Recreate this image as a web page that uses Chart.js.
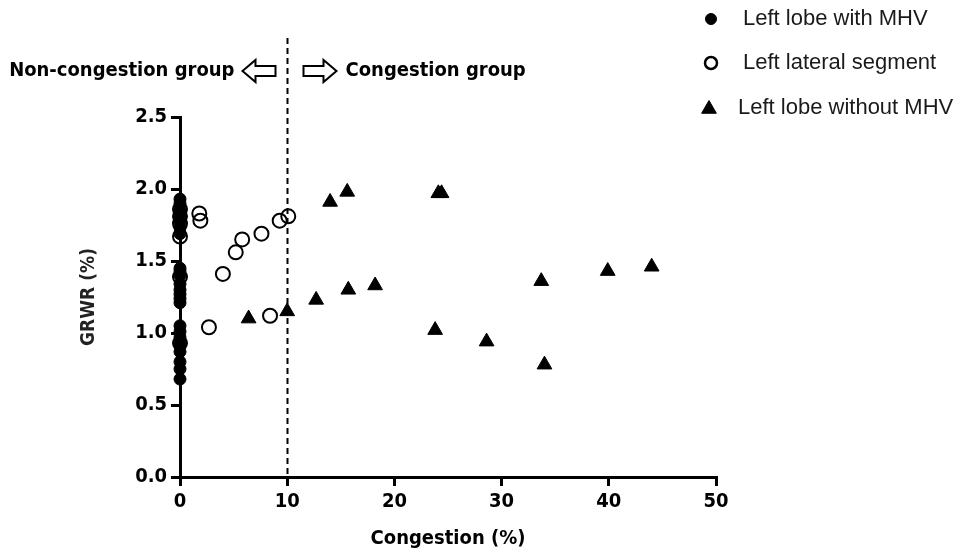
<!DOCTYPE html>
<html>
<head>
<meta charset="utf-8">
<script src="https://cdn.jsdelivr.net/npm/chart.js@4/dist/chart.umd.min.js"></script>
<style>
  html, body { margin: 0; padding: 0; background: #fff; }
  #wrap { width: 973px; height: 555px; }
</style>
</head>
<body>
<div id="wrap"><canvas id="chart"></canvas></div>
<script>
// values
const seriesNames = ['Left lobe with MHV', 'Left lateral segment', 'Left lobe without MHV'];

const withMhvX = [0, 0, 0, 0, 0, 0, 0, 0, 0, 0, 0, 0, 0, 0, 0, 0, 0, 0, 0, 0, 0, 0, 0, 0, 0];
const withMhvY = [1.93, 1.90, 1.87, 1.84, 1.81, 1.77, 1.73, 1.69, 1.45, 1.43, 1.40, 1.34, 1.30, 1.27, 1.24, 1.21, 1.05, 1.01, 0.97, 0.94, 0.91, 0.87, 0.80, 0.75, 0.68];

const lateralX = [0, 0, 0, 0, 0, 0, 1.8, 1.9, 2.7, 4.0, 5.2, 5.8, 7.6, 9.3, 10.1, 8.4];
const lateralY = [1.86, 1.81, 1.76, 1.67, 1.39, 0.93, 1.83, 1.78, 1.04, 1.41, 1.56, 1.65, 1.69, 1.78, 1.81, 1.12];

const withoutMhvX = [6.4, 10.0, 12.7, 14.0, 15.6, 15.7, 18.2, 23.8, 24.1, 24.4, 28.6, 33.7, 34.0, 39.9, 44.0];
const withoutMhvY = [1.10, 1.15, 1.23, 1.91, 1.98, 1.30, 1.33, 1.02, 1.97, 1.97, 0.94, 1.36, 0.78, 1.43, 1.46];

const xTicks = [0, 10, 20, 30, 40, 50];
const yTicks = [0.0, 0.5, 1.0, 1.5, 2.0, 2.5];
const cutoff = 10;
const leftGroupLabel = 'Non-congestion group';
const rightGroupLabel = 'Congestion group';

function toPoints(xs, ys) {
  return xs.map((x, i) => ({ x: x, y: ys[i] }));
}

const boldFont = "'DejaVu Sans Condensed', 'Liberation Sans Narrow', sans-serif";

// dashed cut-off line, the two group labels with hollow arrows, and the legend
const overlay = {
  id: 'overlay',
  afterDatasetsDraw(chart) {
    const ctx = chart.ctx;
    const xs = chart.scales.x;
    const area = chart.chartArea;
    const lx = Math.round(xs.getPixelForValue(cutoff)) + 0.5;

    ctx.save();
    ctx.strokeStyle = '#000';
    ctx.lineWidth = 2;
    ctx.setLineDash([6, 4]);
    ctx.beginPath();
    ctx.moveTo(lx, 38);
    ctx.lineTo(lx, area.bottom);
    ctx.stroke();
    ctx.setLineDash([]);

    const ay = 71;
    function arrow(tipX, dir) {
      // dir -1 points left, +1 points right
      const len = 33, head = 13, hh = 11, sh = 5;
      const baseX = tipX - dir * len;
      const neckX = tipX - dir * head;
      ctx.beginPath();
      ctx.moveTo(tipX, ay);
      ctx.lineTo(neckX, ay - hh);
      ctx.lineTo(neckX, ay - sh);
      ctx.lineTo(baseX, ay - sh);
      ctx.lineTo(baseX, ay + sh);
      ctx.lineTo(neckX, ay + sh);
      ctx.lineTo(neckX, ay + hh);
      ctx.closePath();
      ctx.fillStyle = '#fff';
      ctx.fill();
      ctx.lineWidth = 2;
      ctx.stroke();
    }
    const leftTip = lx - 45;
    const rightTip = lx + 49;
    arrow(leftTip, -1);
    arrow(rightTip, 1);

    ctx.fillStyle = '#000';
    ctx.font = 'bold 20px ' + boldFont;
    ctx.textBaseline = 'middle';
    ctx.textAlign = 'right';
    ctx.fillText(leftGroupLabel, leftTip - 8, ay);
    ctx.textAlign = 'left';
    ctx.fillText(rightGroupLabel, rightTip + 9, ay);

    // legend
    const rows = [19, 63, 108];
    const sizes = [5.5, 6, 8.5];
    ctx.font = "22px 'Liberation Sans', Arial, sans-serif";
    ctx.textAlign = 'left';
    chart.data.datasets.forEach((ds, i) => {
      const y = rows[i];
      ctx.fillStyle = ds.pointBackgroundColor;
      ctx.strokeStyle = ds.pointBorderColor;
      ctx.lineWidth = i === 1 ? 2.5 : 1;
      Chart.helpers.drawPoint(ctx, {
        pointStyle: ds.pointStyle,
        radius: sizes[i],
        rotation: 0,
        borderWidth: ctx.lineWidth
      }, i === 2 ? 709 : 711, i === 2 ? y + 1 : y);
      ctx.fillStyle = '#1a1a1a';
      ctx.fillText(ds.label, i === 2 ? 738 : 743, y);
    });
    ctx.restore();
  }
};

new Chart(document.getElementById('chart'), {
  type: 'scatter',
  data: {
    datasets: [
      {
        label: seriesNames[0],
        data: toPoints(withMhvX, withMhvY),
        order: 2,
        pointStyle: 'circle',
        pointRadius: 6,
        pointBackgroundColor: '#000',
        pointBorderColor: '#000',
        pointBorderWidth: 1,
        clip: false
      },
      {
        label: seriesNames[1],
        data: toPoints(lateralX, lateralY),
        order: 1,
        pointStyle: 'circle',
        pointRadius: 7,
        pointBackgroundColor: 'rgba(255,255,255,0)',
        pointBorderColor: '#000',
        pointBorderWidth: 2,
        clip: false
      },
      {
        label: seriesNames[2],
        data: toPoints(withoutMhvX, withoutMhvY),
        order: 0,
        pointStyle: 'triangle',
        pointRadius: 8.5,
        pointBackgroundColor: '#000',
        pointBorderColor: '#000',
        pointBorderWidth: 1,
        clip: false
      }
    ]
  },
  options: {
    responsive: true,
    maintainAspectRatio: false,
    animation: false,
    events: [],
    layout: { padding: { left: 0, right: 257, top: 117, bottom: 0 } },
    plugins: { legend: { display: false }, tooltip: { enabled: false } },
    scales: {
      x: {
        type: 'linear',
        min: 0,
        max: 50,
        afterFit(scale) { scale.height = 78; },
        afterBuildTicks(scale) { scale.ticks = xTicks.map(v => ({ value: v })); },
        border: { display: true, color: '#000', width: 3 },
        grid: { drawOnChartArea: false, drawTicks: true, tickLength: 9, color: '#000', lineWidth: 3 },
        ticks: {
          color: '#000',
          padding: 4,
          font: { family: boldFont, weight: 'bold', size: 20 }
        },
        title: {
          display: true,
          text: 'Congestion (%)',
          color: '#000',
          padding: { top: 0, bottom: 4 },
          font: { family: boldFont, weight: 'bold', size: 20 }
        }
      },
      y: {
        type: 'linear',
        min: 0,
        max: 2.5,
        afterFit(scale) { scale.width = 180; },
        afterBuildTicks(scale) { scale.ticks = yTicks.map(v => ({ value: v })); },
        border: { display: true, color: '#000', width: 3 },
        grid: { drawOnChartArea: false, drawTicks: true, tickLength: 9, color: '#000', lineWidth: 3 },
        ticks: {
          color: '#000',
          padding: 4,
          font: { family: boldFont, weight: 'bold', size: 20 },
          callback: v => Number(v).toFixed(1)
        },
        title: {
          display: true,
          text: 'GRWR (%)',
          color: '#222',
          padding: { top: 78, bottom: 0 },
          font: { family: boldFont, weight: 'bold', size: 19 }
        }
      }
    }
  },
  plugins: [overlay]
});
</script>
</body>
</html>
